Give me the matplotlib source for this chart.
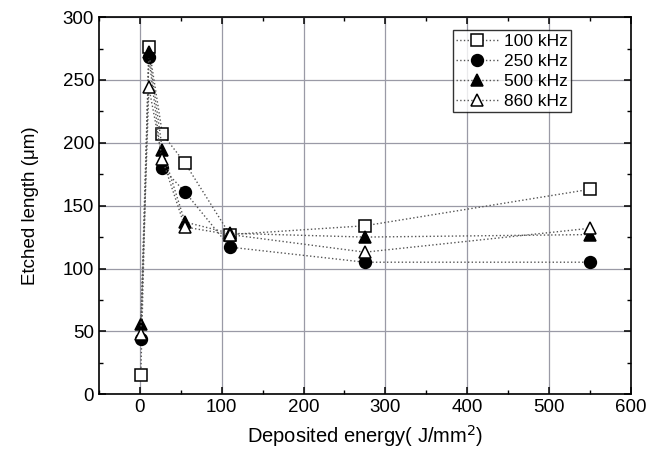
import matplotlib
matplotlib.use("Agg")
import matplotlib.pyplot as plt
from matplotlib.ticker import MultipleLocator

plt.rcParams['font.family'] = ['Liberation Sans', 'DejaVu Sans']

energy = [1.1, 11, 27.5, 55, 110, 275, 550]
f100 = [15, 276, 207, 184, 127, 134, 163]
f250 = [44, 268, 180, 161, 117, 105, 105]
f500 = [56, 272, 194, 137, 128, 125, 127]
f860 = [48, 244, 187, 133, 127, 113, 132]
labels = ['100 kHz', '250 kHz', '500 kHz', '860 kHz']

fig = plt.figure(figsize=(6.47, 4.5), dpi=100)
ax = fig.add_axes([0.153, 0.124, 0.822, 0.838])

styles = [
    dict(marker='s', mfc='white', mec='black', ms=8),
    dict(marker='o', mfc='black', mec='black', ms=8.5),
    dict(marker='^', mfc='black', mec='black', ms=9),
    dict(marker='^', mfc='white', mec='black', ms=9),
]
for ys, lab, st in zip([f100, f250, f500, f860], labels, styles):
    ax.plot(energy, ys, linestyle=':', color='#555555', linewidth=1.0,
            label=lab, mew=1.1, zorder=3, **st)

ax.set_xlim(-50, 600)
ax.set_ylim(0, 300)
ax.xaxis.set_major_locator(MultipleLocator(100))
ax.xaxis.set_minor_locator(MultipleLocator(50))
ax.yaxis.set_major_locator(MultipleLocator(50))
ax.yaxis.set_minor_locator(MultipleLocator(25))
ax.tick_params(which='both', direction='in', top=True, right=True)
ax.tick_params(which='major', length=5, width=1.1, labelsize=13.5)
ax.tick_params(which='minor', length=3, width=1.0)
ax.grid(True, which='major', color='#9a9aa6', linewidth=0.9)
for s in ax.spines.values():
    s.set_linewidth(1.2)

ax.set_xlabel('Deposited energy( J/mm$^2$)', fontsize=14.5, labelpad=5)
ax.set_ylabel('Etched length (μm)', fontsize=13.5, labelpad=17)

leg = ax.legend(loc='upper left', bbox_to_anchor=(0.665, 0.965), fontsize=12.5,
                frameon=True, fancybox=False, edgecolor='black',
                handlelength=2.4, borderpad=0.2, labelspacing=0.28,
                handletextpad=0.35, borderaxespad=0)
leg.get_frame().set_linewidth(1.0)

fig.savefig('out.png', dpi=100)
